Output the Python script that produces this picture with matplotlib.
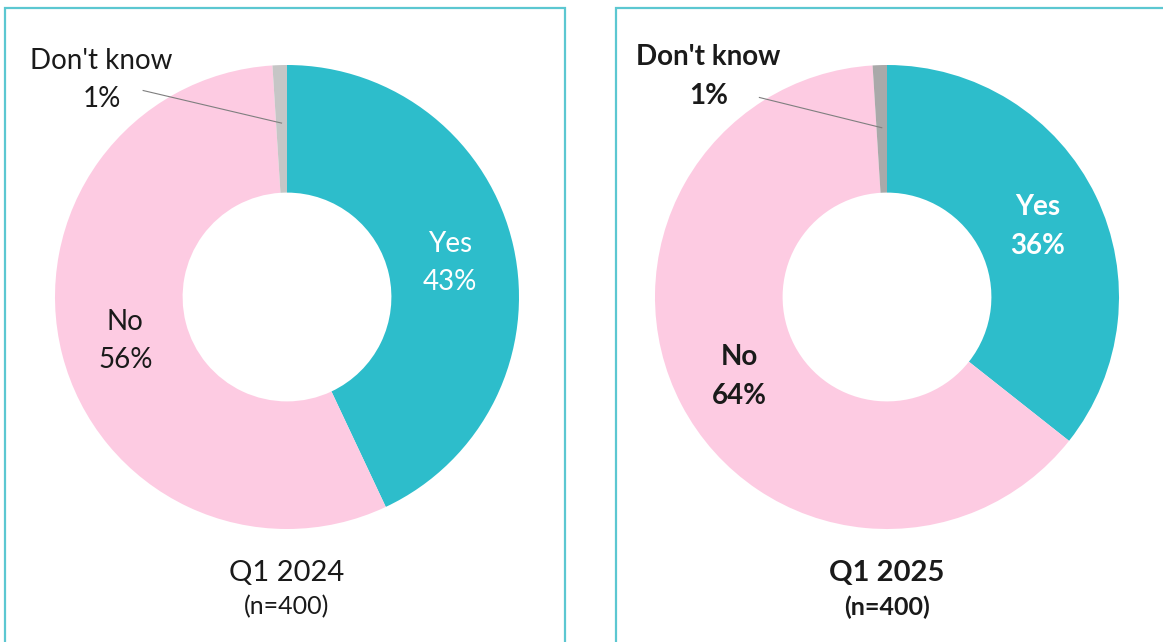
import matplotlib
matplotlib.use("Agg")
import numpy as np
import matplotlib.pyplot as plt
from matplotlib.patches import Rectangle

# survey results, one donut per quarter
categories = ["Yes", "No", "Don't know"]
values_2024 = [43, 56, 1]
values_2025 = [36, 64, 1]
titles = ["Q1 2024", "Q1 2025"]
sample_sizes = ["(n=400)", "(n=400)"]

colors_2024 = ["#2dbdcb", "#fdcbe2", "#c6c6c6"]
colors_2025 = ["#2dbdcb", "#fdcbe2", "#a9a9a9"]
teal_border = "#5cc7d1"
text_dark = "#1a1a1a"

plt.rcParams["font.family"] = ["Lato", "DejaVu Sans"]

W, H = 1163, 642
fig = plt.figure(figsize=(W / 100, H / 100), dpi=100)

# panel frames (open at the bottom / right edge like the cropped slide)
fig.add_artist(Rectangle((5 / W, -0.1), 560 / W, (H - 8) / H + 0.1,
                         transform=fig.transFigure, fill=False,
                         edgecolor=teal_border, lw=1.6))
fig.add_artist(Rectangle((616 / W, -0.1), 600 / W, (H - 8) / H + 0.1,
                         transform=fig.transFigure, fill=False,
                         edgecolor=teal_border, lw=1.6))


def draw_donut(cx, vals, cols, title, n, bold, dk_text_xy, leader_start, leader_r):
    r = 232
    cy = 297
    ax = fig.add_axes([(cx - r) / W, (H - cy - r) / H, 2 * r / W, 2 * r / H])
    wedges, _ = ax.pie(vals, colors=cols, startangle=90, counterclock=False,
                       radius=1, wedgeprops=dict(width=0.55, edgecolor="none"))
    ax.set_xlim(-1, 1)
    ax.set_ylim(-1, 1)
    ax.set_aspect("equal")
    ax.axis("off")
    weight = "bold" if bold else "normal"
    for i, (w, v) in enumerate(zip(wedges, vals)):
        mid = np.deg2rad((w.theta1 + w.theta2) / 2)
        label = f"{categories[i]}\n{v}%"
        if i < 2:
            tc = "white" if i == 0 else text_dark
            ax.text(0.72 * np.cos(mid), 0.72 * np.sin(mid) - 0.01, label,
                    ha="center", va="center", fontsize=20, color=tc,
                    fontweight=weight, linespacing=1.6)
        else:
            ax.text(dk_text_xy[0], dk_text_xy[1], label, ha="center", va="center",
                    fontsize=20, color=text_dark, fontweight=weight,
                    linespacing=1.6, clip_on=False)
            # leader line to the small slice
            ax.plot([leader_start[0], leader_r * np.cos(mid)],
                    [leader_start[1], leader_r * np.sin(mid)],
                    color="#7f7f7f", lw=0.8, clip_on=False)
    fig.text(cx / W, 1 - 573 / H, title, ha="center", va="center",
             fontsize=21, color=text_dark, fontweight=weight)
    fig.text(cx / W, 1 - 607 / H, n, ha="center", va="center",
             fontsize=18, color=text_dark, fontweight=weight)


draw_donut(287, values_2024, colors_2024, titles[0], sample_sizes[0], False,
           (-0.80, 0.935), (-0.62, 0.89), 0.75)
draw_donut(887, values_2025, colors_2025, titles[1], sample_sizes[1], True,
           (-0.77, 0.95), (-0.55, 0.86), 0.73)

fig.savefig("out.png", dpi=100)
